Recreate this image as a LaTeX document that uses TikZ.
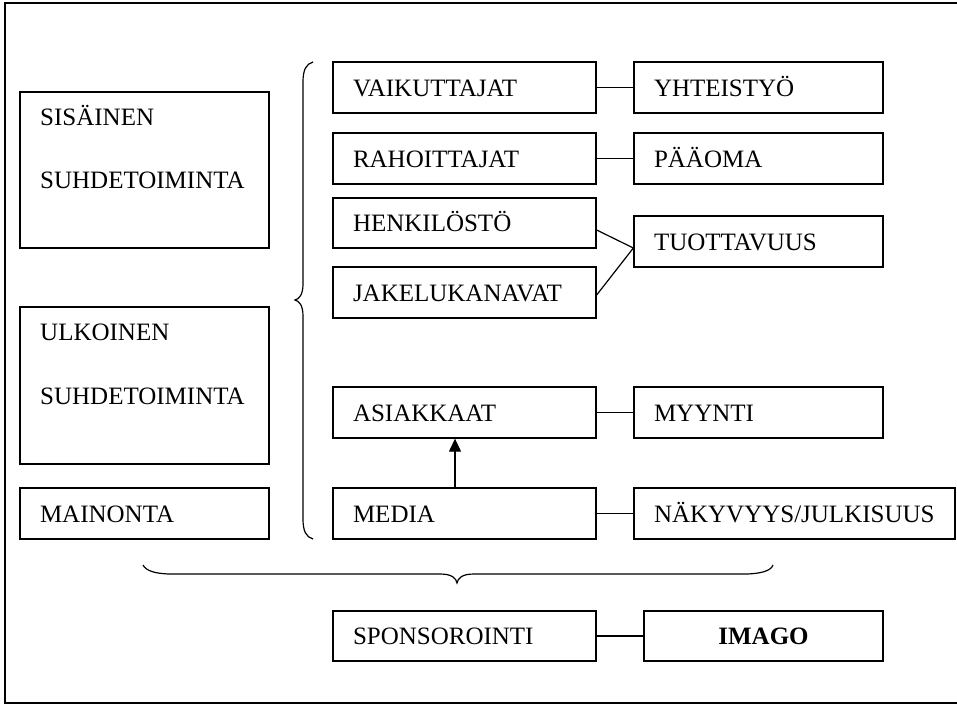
\documentclass[tikz,border=0pt]{standalone}
\usepackage{fontspec}
\setmainfont{Liberation Serif}
\usetikzlibrary{arrows.meta}
\begin{document}
\begin{tikzpicture}[x=1pt,y=-1pt,
  font=\fontsize{25}{30}\selectfont,
  box/.style={draw,line width=1.3pt,rectangle,inner ysep=0pt,inner xsep=20pt,
    text height=17pt,text depth=0pt,align=left},
  emptybox/.style={draw,line width=1.3pt,rectangle,inner sep=0pt},
  lbl/.style={anchor=base west,inner sep=0pt},
  conn/.style={line width=1.2pt},
  bracestyle/.style={line width=1.2pt}]
\useasboundingbox (0,0) rectangle (957,705);
% outer frame (right side is cut off)
\draw[line width=1.3pt] (957,3) -- (5,3) -- (5,703) -- (957,703);
% helper macro for boxes: centre, width, height
\newcommand{\mybox}[6]{%
  \node[box,minimum width=#4pt,minimum height=#5pt,text width=#4pt-40pt] (#1) at (#2,#3) {#6};}
% left column
\node[emptybox,minimum width=249pt,minimum height=156pt] (sis) at (144.5,170) {};
\node[lbl] (sist1) at (40,125) {SISÄINEN};
\node[lbl] (sist2) at (40,188) {SUHDETOIMINTA};
\node[emptybox,minimum width=249pt,minimum height=157pt] (ulk) at (144.5,385.5) {};
\node[lbl] (ulkt1) at (40,340) {ULKOINEN};
\node[lbl] (ulkt2) at (40,404) {SUHDETOIMINTA};
\mybox{mai}{144.5}{513.5}{249}{51}{MAINONTA}
% middle column
\mybox{vai}{464.5}{87.5}{263}{51}{VAIKUTTAJAT}
\mybox{rah}{464.5}{158.5}{263}{51}{RAHOITTAJAT}
\mybox{hen}{464.5}{223}{263}{50}{HENKILÖSTÖ}
\mybox{jak}{464.5}{292.5}{263}{51}{JAKELUKANAVAT}
\mybox{asi}{464.5}{412.5}{263}{51}{ASIAKKAAT}
\mybox{med}{464.5}{513.5}{263}{51}{MEDIA}
\mybox{spo}{464.5}{636}{263}{50}{SPONSOROINTI}
% right column
\mybox{yht}{758.5}{87.5}{249}{51}{YHTEISTYÖ}
\mybox{paa}{758.5}{158.5}{249}{51}{PÄÄOMA}
\mybox{tuo}{758.5}{241.5}{249}{51}{TUOTTAVUUS}
\mybox{myy}{758.5}{412.5}{249}{51}{MYYNTI}
\mybox{nak}{794.5}{513.5}{321}{51}{NÄKYVYYS/JULKISUUS}
\node[draw,line width=1.3pt,rectangle,inner sep=0pt,minimum width=239pt,minimum height=50pt,
  text height=17pt,text depth=0pt,font=\fontsize{25}{30}\selectfont\bfseries] (ima) at (763.5,636) {IMAGO};
% connectors
\draw[conn] (vai.east) -- (yht.west);
\draw[conn] (rah.east) -- (paa.west);
\draw[conn] ([yshift=-7pt]hen.east) -- ([yshift=-6.5pt]tuo.west);
\draw[conn] ([yshift=-2.5pt]jak.east) -- ([yshift=-6.5pt]tuo.west);
\draw[conn] (asi.east) -- (myy.west);
\draw[conn] (med.east) -- (nak.west);
\draw[conn] (spo.east) -- (ima.west);
\draw[conn,-{Triangle[width=12pt,length=13pt]}] ([xshift=-9.5pt]med.north) -- ([xshift=-9.5pt]asi.south);
% vertical brace
\draw[bracestyle] (313,62) .. controls (306,64) and (303,70) .. (303,82) -- (303,284)
  .. controls (303,295) and (299,299) .. (295,300)
  .. controls (299,301) and (303,305) .. (303,316) -- (303,519)
  .. controls (303,531) and (306,537) .. (313,539);
% horizontal brace
\draw[bracestyle] (143,565) .. controls (146,571) and (156,574) .. (172,574) -- (440,574)
  .. controls (452,574) and (456,578) .. (457,583)
  .. controls (458,578) and (462,574) .. (474,574) -- (744,574)
  .. controls (760,574) and (771,571) .. (773,565);
\end{tikzpicture}
\end{document}
